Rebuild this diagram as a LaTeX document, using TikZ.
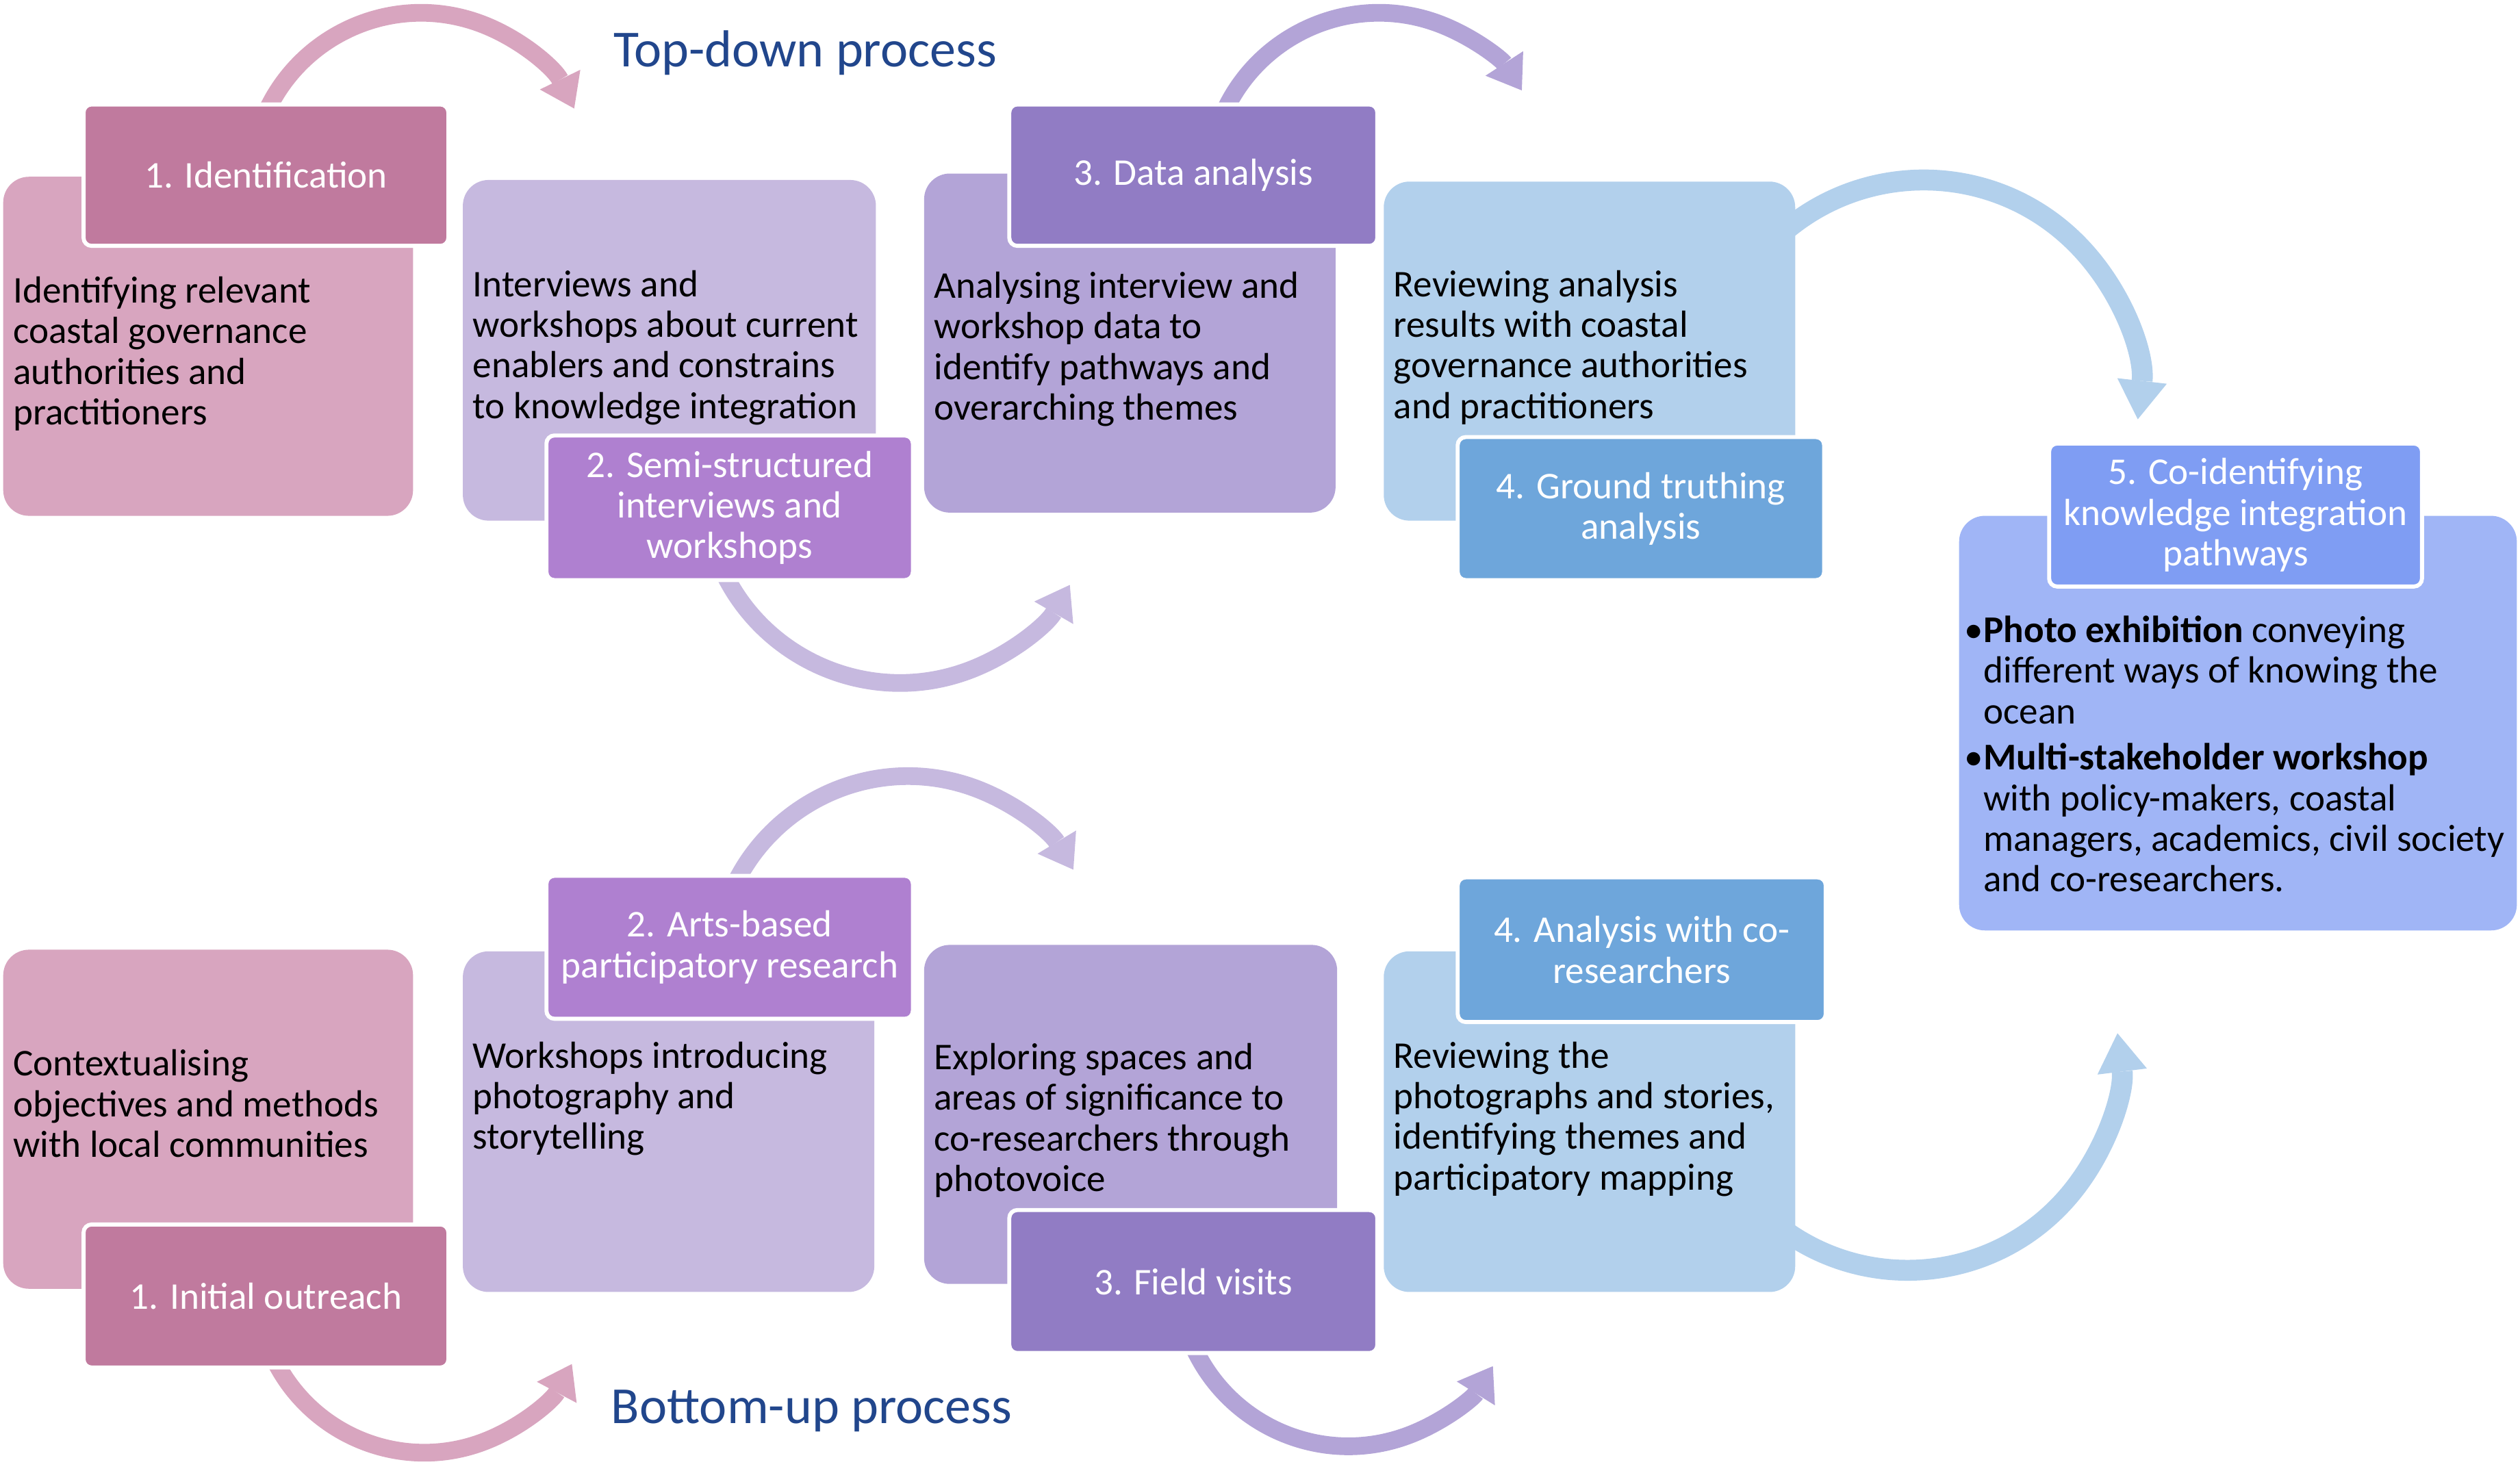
\documentclass[tikz,border=0pt]{standalone}
\usepackage{fontspec}
\setmainfont{Carlito}
\usetikzlibrary{arrows.meta}
\definecolor{pinkL}{HTML}{D8A5BF}
\definecolor{pinkD}{HTML}{C07A9E}
\definecolor{lavL}{HTML}{C6B9DF}
\definecolor{purH}{HTML}{AF80D0}
\definecolor{vioL}{HTML}{B3A4D7}
\definecolor{vioH}{HTML}{917CC4}
\definecolor{bluL}{HTML}{B2D0EC}
\definecolor{bluH}{HTML}{6EA6DB}
\definecolor{perL}{HTML}{A0B5F6}
\definecolor{perH}{HTML}{7F9DF3}
\definecolor{ttl}{HTML}{21468C}
\begin{document}
\begin{tikzpicture}[x=1pt,y=-1pt,
  every node/.style={font=\fontsize{23.5}{25.3}\selectfont},
  lightbox/.style={rounded corners=16pt, inner sep=0pt},
  headbox/.style={rounded corners=5pt, inner sep=0pt, draw=white, line width=2.5pt, text=white, align=center},
  bodytext/.style={anchor=north west, inner sep=0pt, align=left, text=black},
  ttltext/.style={text=ttl, font=\fontsize{32.4}{38}\selectfont, inner sep=0pt},
  arcsmall/.style={line width=11pt, -{Triangle[width=28pt,length=20pt,line width=0pt]}},
  arcbig/.style={line width=13pt, -{Triangle[width=31pt,length=24pt,line width=0pt]}}]
\useasboundingbox (0,0) rectangle (1568,915);
% arc centres
\coordinate (cA1) at (262,114);
\coordinate (cA2) at (560,303);
\coordinate (cA3) at (858,114);
\coordinate (cA4) at (1197,246);
\coordinate (cB1) at (565,603);
\coordinate (cB2) at (264,800);
\coordinate (cB3) at (839,794);
\coordinate (cB4) at (1187,659);
% arcs (behind boxes)
\draw[arcsmall, pinkL] (cA1) ++(200:106) arc[start angle=200, end angle=334, radius=106];
\draw[arcsmall, lavL] (cA2) ++(160:122) arc[start angle=160, end angle=30, radius=122];
\draw[arcsmall, vioL] (cA3) ++(200:106) arc[start angle=200, end angle=327, radius=106];
\draw[arcbig, bluL] (cA4) ++(225:134) arc[start angle=225, end angle=366.4, radius=134];
\draw[arcsmall, lavL] (cB1) ++(200:120) arc[start angle=200, end angle=329, radius=120];
\draw[arcsmall, pinkL] (cB2) ++(160:104) arc[start angle=160, end angle=28, radius=104];
\draw[arcsmall, vioL] (cB3) ++(160:106) arc[start angle=160, end angle=32, radius=106];
\draw[arcbig, bluL] (cB4) ++(130:131.5) arc[start angle=130, end angle=-7, radius=131.5];
% top row
\node[lightbox, fill=pinkL, minimum width=255pt, minimum height=211pt] (L1t) at (129.5,215.5) {};
\node[headbox, fill=pinkD, minimum width=227pt, minimum height=88pt] (H1t) at (165.5,109) {1. Identification};
\node[bodytext] (T1t) at (8,172) {Identifying relevant\\coastal governance\\authorities and\\practitioners};
\node[lightbox, fill=lavL, minimum width=257pt, minimum height=212pt] (L2t) at (416.5,218) {};
\node[bodytext] (T2t) at (294,168) {Interviews and\\workshops about current\\enablers and constrains\\to knowledge integration};
\node[headbox, fill=purH, minimum width=228pt, minimum height=90pt] (H2t) at (454,316) {2. Semi-structured\\interviews and\\workshops};
\node[lightbox, fill=vioL, minimum width=256pt, minimum height=211pt] (L3t) at (703,213.5) {};
\node[headbox, fill=vioH, minimum width=229pt, minimum height=88pt] (H3t) at (742.5,109) {3. Data analysis};
\node[bodytext] (T3t) at (581,169) {Analysing interview and\\workshop data to\\identify pathways and\\overarching themes};
\node[lightbox, fill=bluL, minimum width=256pt, minimum height=211pt] (L4t) at (989,218.5) {};
\node[bodytext] (T4t) at (867,168) {Reviewing analysis\\results with coastal\\governance authorities\\and practitioners};
\node[headbox, fill=bluH, minimum width=228pt, minimum height=89pt] (H4t) at (1021,316.5) {4. Ground truthing\\analysis};
% final box
\node[lightbox, fill=perL, minimum width=347pt, minimum height=258pt] (L5) at (1392.5,450) {};
\node[headbox, fill=perH, minimum width=232pt, minimum height=89pt] (H5) at (1391,320.5) {5. Co-identifying\\knowledge integration\\pathways};
\node[bodytext] (T5) at (1234,383) {\llap{•}\textbf{Photo exhibition} conveying\\different ways of knowing the\\ocean\\[3.5pt]\llap{•}\textbf{Multi-stakeholder workshop}\\with policy-makers, coastal\\managers, academics, civil society\\and co-researchers.};
% bottom row
\node[lightbox, fill=pinkL, minimum width=255pt, minimum height=211pt] (L1b) at (129.5,696.5) {};
\node[bodytext] (T1b) at (8,653) {Contextualising\\objectives and methods\\with local communities};
\node[headbox, fill=pinkD, minimum width=227pt, minimum height=89pt] (H1b) at (165.5,806.5) {1. Initial outreach};
\node[lightbox, fill=lavL, minimum width=256pt, minimum height=212pt] (L2b) at (416,698) {};
\node[headbox, fill=purH, minimum width=228pt, minimum height=89pt] (H2b) at (454,589.5) {2. Arts-based\\participatory research};
\node[bodytext] (T2b) at (294,648) {Workshops introducing\\photography and\\storytelling};
\node[lightbox, fill=vioL, minimum width=257pt, minimum height=211pt] (L3b) at (703.5,693.5) {};
\node[bodytext] (T3b) at (581,649) {Exploring spaces and\\areas of significance to\\co-researchers through\\photovoice};
\node[headbox, fill=vioH, minimum width=229pt, minimum height=89pt] (H3b) at (742.5,797.5) {3. Field visits};
\node[lightbox, fill=bluL, minimum width=256pt, minimum height=212pt] (L4b) at (989,698) {};
\node[headbox, fill=bluH, minimum width=229pt, minimum height=90pt] (H4b) at (1021.5,591) {4. Analysis with co-\\researchers};
\node[bodytext] (T4b) at (867,648) {Reviewing the\\photographs and stories,\\identifying themes and\\participatory mapping};
% titles
\node[ttltext] (TD) at (501,33) {Top-down process};
\node[ttltext] (BU) at (505,878) {Bottom-up process};
\end{tikzpicture}
\end{document}
